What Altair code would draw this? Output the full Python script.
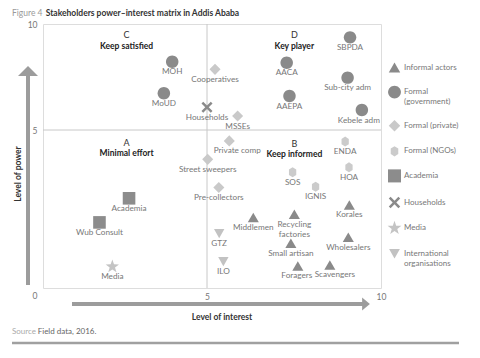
import altair as alt
import pandas as pd

# ---- data ----
names = ["MOH", "MoUD", "Cooperatives", "Households", "SBPDA", "AACA", "Sub-city adm",
         "AAEPA", "Kebele adm", "MSSEs", "Private comp", "ENDA", "Street sweepers",
         "Pre-collectors", "Academia", "Wub Consult", "GTZ", "ILO", "Media", "SOS", "HOA",
         "IGNIS", "Korales", "Middlemen", "Recycling\nfactories", "Wholesalers",
         "Small artisan", "Foragers", "Scavengers"]
interest = [4.0, 3.76, 5.23, 5.0, 9.11, 7.29, 9.04, 7.37, 9.45, 5.88, 5.64, 8.97, 5.02,
            5.34, 2.76, 1.91, 5.35, 5.47, 2.28, 7.46, 9.08, 8.12, 9.09, 6.33, 7.51, 9.06,
            7.41, 7.61, 8.53]
power = [8.22, 6.73, 7.86, 6.07, 9.37, 8.17, 7.47, 6.6, 5.94, 5.66, 4.67, 4.65, 4.11,
         3.26, 2.93, 2.2, 1.86, 1.01, 0.86, 3.72, 3.87, 3.28, 2.73, 2.35, 2.45, 1.75,
         1.57, 0.88, 0.91]
groups = ["Formal (government)", "Formal (government)", "Formal (private)", "Households",
          "Formal (government)", "Formal (government)", "Formal (government)",
          "Formal (government)", "Formal (government)", "Formal (private)",
          "Formal (private)", "Formal (NGOs)", "Formal (private)", "Formal (private)",
          "Academia", "Academia", "International organisations",
          "International organisations", "Media", "Formal (NGOs)", "Formal (NGOs)",
          "Formal (NGOs)", "Informal actors", "Informal actors", "Informal actors",
          "Informal actors", "Informal actors", "Informal actors", "Informal actors"]

group_order = ["Informal actors", "Formal (government)", "Formal (private)", "Formal (NGOs)",
               "Academia", "Households", "Media", "International organisations"]
group_colors = ["#8a8a8a", "#8a8a8a", "#c9c9c9", "#cbcbcb", "#8c8c8c", "#8a8a8a",
                "#c4c4c4", "#c2c2c2"]
group_shapes = [
    "M0,-0.68L0.79,0.68L-0.79,0.68Z",
    "M0.89,0A0.89,0.89,0,1,1,-0.89,0A0.89,0.89,0,1,1,0.89,0Z",
    "M0,-0.79L0.79,0L0,0.79L-0.79,0Z",
    "M0,-0.71L0.52,-0.38L0.52,0.38L0,0.71L-0.52,0.38L-0.52,-0.38Z",
    "M-0.9,-0.9L0.9,-0.9L0.9,0.9L-0.9,0.9Z",
    "M-0.79,-0.54L-0.54,-0.79L0,-0.25L0.54,-0.79L0.79,-0.54L0.25,0L0.79,0.54L0.54,0.79L0,0.25L-0.54,0.79L-0.79,0.54L-0.25,0Z",
    "M0,-1L0.235,-0.324L0.951,-0.309L0.38,0.124L0.588,0.809L0,0.4L-0.588,0.809L-0.38,0.124L-0.951,-0.309L-0.235,-0.324Z",
    "M-0.74,-0.66L0.74,-0.66L0,0.66Z",
]

quad_letters = ["C", "D", "A", "B"]
quad_titles = ["Keep satisfied", "Key player", "Minimal effort", "Keep informed"]
quad_x = [2.69, 7.51, 2.69, 7.51]
quad_y = [9.46, 9.48, 4.62, 4.58]

x_ticks = [5, 10]
y_ticks = [0, 5, 10]

title_prefix = "Figure 4"
title_main = "Stakeholders power\u2013interest matrix in Addis Ababa"
x_title = "Level of interest"
y_title = "Level of power"
source_prefix = "Source"
source_text = "Field data, 2016."

df = pd.DataFrame({"name": names, "interest": interest, "power": power, "group": groups})
quad = pd.DataFrame({"letter": quad_letters, "title": quad_titles, "x": quad_x, "y": quad_y})
one = pd.DataFrame({"k": [0]})

# label nudges (styling only, in pixels)
NUDGE = {"Scavengers": 5, "Private comp": 8, "Kebele adm": -3, "Foragers": -1}

W, H = 338, 264
FONT = "Lato"
xs = alt.Scale(domain=[0, 10], range=[-10, W])
ys = alt.Scale(domain=[0, 5, 10], range=[271, 106, 0])

x_axis = alt.Axis(values=x_ticks, domain=False, ticks=False, grid=False, title=None,
                  labelFontSize=8.5, labelColor="#777777", labelPadding=4,
                  labelFlush=False, labelFont=FONT)
y_axis = alt.Axis(values=y_ticks, domain=False, ticks=False, grid=False, title=None,
                  labelFontSize=8.5, labelColor="#777777", labelPadding=6,
                  labelFlush=False, labelFont=FONT)

label_expr = ("datum.label == 'Formal (government)' ? ['Formal', '\u00a0\u00a0(government)'] : "
              "datum.label == 'International organisations' ? "
              "['International', '\u00a0\u00a0\u00a0\u00a0organisations'] : datum.label")

def legend():
    return alt.Legend(title=None, orient="none", legendX=344, legendY=36, padding=0,
                      symbolSize=210, symbolStrokeWidth=0, symbolOpacity=1,
                      labelFontSize=8, labelColor="#777777", labelFont=FONT,
                      labelOffset=2, rowPadding=11.6, labelExpr=label_expr,
                      labelLimit=120)

enc_x = alt.X("interest:Q", scale=xs, axis=x_axis)
enc_y = alt.Y("power:Q", scale=ys, axis=y_axis)

vline = alt.Chart(one).mark_rule(color="#c8c8c8", strokeWidth=1).encode(x=alt.datum(5))
hline = alt.Chart(one).mark_rule(color="#c8c8c8", strokeWidth=1).encode(y=alt.datum(5))

points = alt.Chart(df).mark_point(filled=True, size=196, opacity=1, strokeWidth=0).encode(
    x=enc_x, y=enc_y,
    shape=alt.Shape("group:N", scale=alt.Scale(domain=group_order, range=group_shapes),
                    legend=legend()),
    color=alt.Color("group:N", scale=alt.Scale(domain=group_order, range=group_colors),
                    legend=legend()),
)

def label_layer(dx, only=None, exclude=None):
    c = alt.Chart(df)
    if only is not None:
        c = c.transform_filter(alt.FieldOneOfPredicate(field="name", oneOf=only))
    if exclude is not None:
        c = c.transform_filter({"not": alt.FieldOneOfPredicate(field="name", oneOf=exclude)})
    return c.mark_text(baseline="top", dy=6.5, dx=dx, fontSize=8.2, color="#777777",
                       font=FONT, lineBreak="\n").encode(
        x=alt.X("interest:Q"), y=alt.Y("power:Q"), text="name:N")

label_layers = [label_layer(0, exclude=list(NUDGE))] + \
    [label_layer(d, only=[n]) for n, d in NUDGE.items()]

qletters = alt.Chart(quad).mark_text(fontSize=9, color="#333333", font=FONT,
                                     baseline="middle").encode(
    x=alt.X("x:Q"), y=alt.Y("y:Q"), text="letter:N")
qtitles = alt.Chart(quad).mark_text(fontSize=8.5, color="#222222", font=FONT,
                                    fontWeight="bold", baseline="middle", dy=10.5).encode(
    x=alt.X("x:Q"), y=alt.Y("y:Q"), text="title:N")

GREY = "#9c9c9c"
harrow = alt.Chart(one).mark_rule(color=GREY, strokeWidth=4).encode(
    x=alt.value(29), x2=alt.value(320), y=alt.value(280))
hhead = alt.Chart(one).mark_point(shape="M-0.6,-1L0.6,0L-0.6,1Z", filled=True, size=169,
                                  opacity=1, color=GREY, strokeWidth=0).encode(
    x=alt.value(323), y=alt.value(280))
varrow = alt.Chart(one).mark_rule(color=GREY, strokeWidth=4).encode(
    x=alt.value(-15), y=alt.value(51), y2=alt.value(261))
vhead = alt.Chart(one).mark_point(shape="M0,-0.5L1,0.5L-1,0.5Z", filled=True, size=400,
                                  opacity=1, color=GREY, strokeWidth=0).encode(
    x=alt.value(-15), y=alt.value(47))

xtitle = alt.Chart(one).mark_text(text=x_title, fontSize=8.5, fontWeight="bold",
                                  color="#333333", font=FONT).encode(
    x=alt.value(179), y=alt.value(293))
ytitle = alt.Chart(one).mark_text(text=y_title, fontSize=8.5, fontWeight="bold",
                                  color="#333333", font=FONT, angle=270).encode(
    x=alt.value(-25), y=alt.value(150))

t1 = alt.Chart(one).mark_text(text=title_prefix, fontSize=8.5, color="#9a9a9a", font=FONT,
                              align="left", baseline="top").encode(
    x=alt.value(-31), y=alt.value(-15.5))
t2 = alt.Chart(one).mark_text(text=title_main, fontSize=8.5, color="#333333", font=FONT,
                              fontWeight="bold", align="left", baseline="top").encode(
    x=alt.value(2.7), y=alt.value(-15.5))

s1 = alt.Chart(one).mark_text(text=source_prefix, fontSize=8, color="#aaaaaa", font=FONT,
                              align="left").encode(x=alt.value(-31), y=alt.value(308))
s2 = alt.Chart(one).mark_text(text=source_text, fontSize=8, color="#666666", font=FONT,
                              align="left").encode(x=alt.value(-5.3), y=alt.value(308))
sline = alt.Chart(one).mark_rule(color="#a0a0a0", strokeWidth=2.5).encode(
    x=alt.value(-31), x2=alt.value(416), y=alt.value(319))

chart = alt.layer(
    vline, hline, points, *label_layers, qletters, qtitles,
    harrow, hhead, varrow, vhead, xtitle, ytitle, t1, t2, s1, s2, sline
).properties(
    width=W, height=H,
    padding={"left": 35, "top": 16, "right": 82, "bottom": 58},
    autosize=alt.AutoSizeParams(type="none"),
).configure_view(stroke="#c8c8c8", strokeWidth=1).configure(font=FONT)

chart.save("out.html", embed_options={"renderer": "svg", "actions": False})
